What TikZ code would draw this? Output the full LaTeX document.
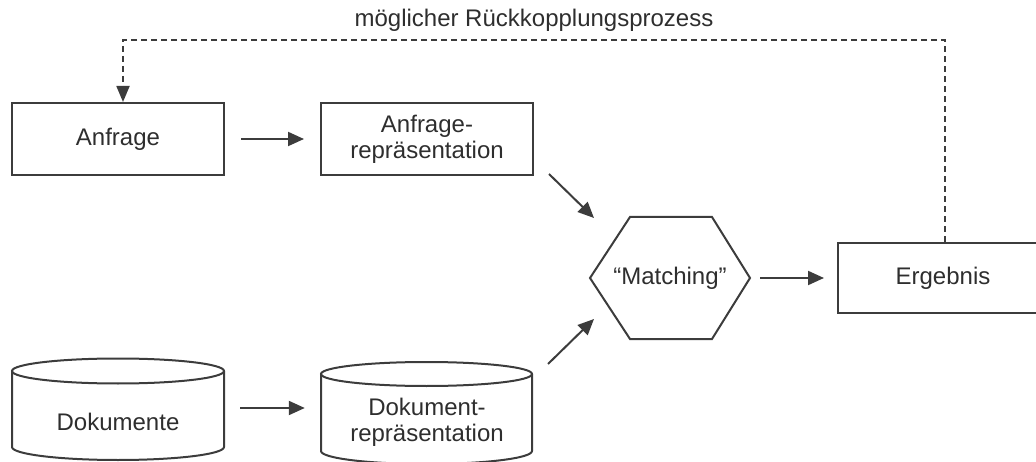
\documentclass[tikz,border=0pt]{standalone}
\usepackage{fontspec}
\setmainfont{Liberation Sans}
\usetikzlibrary{arrows.meta,calc}
\definecolor{linegray}{HTML}{3C3C3C}
\definecolor{textgray}{HTML}{2E2E2E}
\begin{document}
\begin{tikzpicture}[x=1pt,y=-1pt,
  every node/.style={font=\fontsize{24}{26}\selectfont, text=textgray, align=center, inner sep=0pt},
  box/.style={draw=linegray, line width=2pt, minimum width=212pt, minimum height=72pt},
  store/.style={minimum width=212pt, minimum height=60pt},
  wall/.style={draw=linegray, line width=2pt},
  flow/.style={draw=linegray, line width=2pt, -{Triangle[length=16pt,width=14pt]}},
  feedback/.style={draw=linegray, line width=1.8pt, dash pattern=on 6pt off 4pt,
    -{Triangle[length=16pt,width=13pt]}}]
\useasboundingbox (0,0) rectangle (1036,462);
\clip (0,0) rectangle (1036,462);

% query side
\node[box] (anf) at (118,139) {Anfrage};
\node[box] (anfrep) at (427,139) {Anfrage-\\repräsentation};

% document stores
\draw[wall] (12,371) -- (12,447) arc[start angle=180, end angle=0, x radius=106, y radius=13] -- (224,371);
\draw[wall] (118,371) ellipse[x radius=106, y radius=12.5];
\draw[wall] (321,374) -- (321,451) arc[start angle=180, end angle=0, x radius=105.5, y radius=13] -- (532,374);
\draw[wall] (426.5,374) ellipse[x radius=105.5, y radius=12];
\node[store] (doc) at (118,422) {Dokumente};
\node[store] (docrep) at (427,422) {Dokument-\\repräsentation};

% matching hexagon
\node[minimum width=160pt, minimum height=122pt] (match) at (670,278) {“Matching”};
\draw[wall] ($(match)+(-80,0)$) -- ($(match)+(-40,-61)$) -- ($(match)+(42,-61)$)
  -- ($(match)+(80,0)$) -- ($(match)+(42,61)$) -- ($(match)+(-40,61)$) -- cycle;

% result
\node[box, minimum width=210pt, minimum height=70pt] (erg) at (943,278) {Ergebnis};

% connectors
\coordinate (outA) at ($(anfrep.south east)+(15,-2)$);
\coordinate (inA) at ($(match)+(-76,-60)$);
\coordinate (outB) at (548,364);
\coordinate (inB) at ($(match)+(-76,41)$);
\draw[flow, shorten <=16pt, shorten >=16pt] (anf) -- (anfrep);
\draw[flow, shorten <=16pt, shorten >=16pt] ([yshift=14pt]doc.east) -- ([yshift=14pt]docrep.west);
\draw[flow] (outA) -- (inA);
\draw[flow] (outB) -- (inB);
\draw[flow, shorten <=10pt, shorten >=13pt] (match.east) -- (erg.west);

% feedback loop
\coordinate (fb) at (534,40);
\draw[feedback] ([xshift=2pt]erg.north) |- (fb) -| ([xshift=5pt]anf.north);
\node[anchor=base] (fblabel) at (534,27) {möglicher Rückkopplungsprozess};
\end{tikzpicture}
\end{document}
